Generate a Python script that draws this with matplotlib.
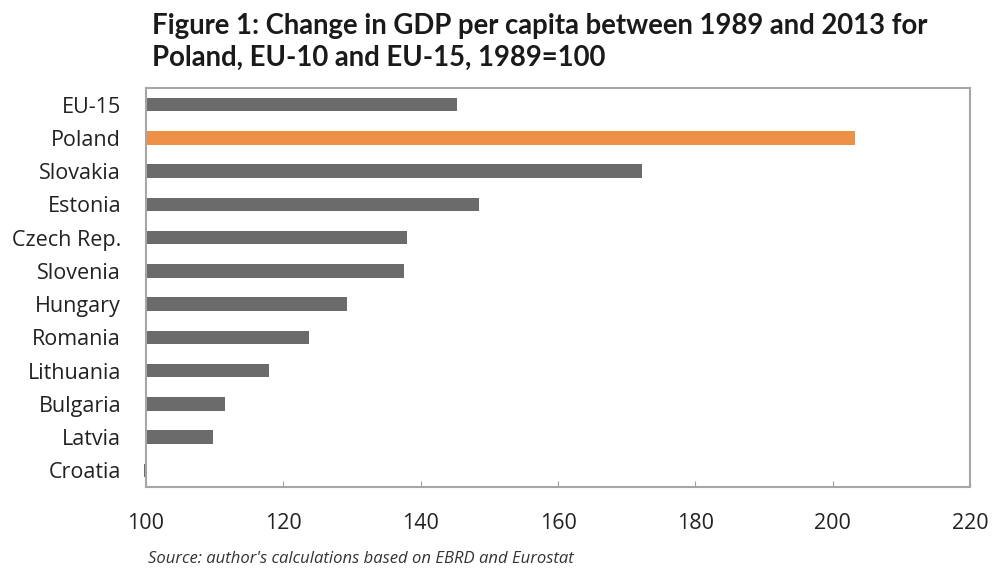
import matplotlib.pyplot as plt

countries = ["EU-15", "Poland", "Slovakia", "Estonia", "Czech Rep.", "Slovenia",
             "Hungary", "Romania", "Lithuania", "Bulgaria", "Latvia", "Croatia"]
gdp_index = [145.3, 203.2, 172.2, 148.5, 138.0, 137.6,
             129.2, 123.7, 117.9, 111.5, 109.7, 99.7]
xticks = [100, 120, 140, 160, 180, 200, 220]

plt.rcParams['font.family'] = ['Open Sans', 'DejaVu Sans']

fig = plt.figure(figsize=(9.94, 5.69), dpi=100)
ax = fig.add_axes([0.1469, 0.1441, 0.829, 0.7012])

ypos = list(range(len(countries) - 1, -1, -1))
colors = ["#ed9147" if c == "Poland" else "#6b6b6b" for c in countries]
bars = ax.barh(ypos, [v - 100 for v in gdp_index], left=100, height=0.4, color=colors)
for b in bars:
    b.set_clip_on(False)

ax.set_xlim(100, 220)
ax.set_ylim(-0.5, 11.5)
ax.set_xticks(xticks)
ax.set_xticklabels([str(t) for t in xticks])
ax.set_yticks(ypos)
ax.set_yticklabels(countries)
ax.tick_params(axis='y', length=0, pad=18, labelsize=15.5, labelcolor="#222222")
ax.tick_params(axis='x', direction='in', length=4, color="#a0a0a0", pad=19,
               labelsize=15.5, labelcolor="#222222")
for s in ax.spines.values():
    s.set_color("#a6a6a6")
    s.set_linewidth(1.5)

fig.text(0.153, 0.978, "Figure 1: Change in GDP per capita between 1989 and 2013 for\n"
         "Poland, EU-10 and EU-15, 1989=100", ha='left', va='top',
         fontsize=19.8, fontweight='bold', color="#1a1a1a", linespacing=1.3,
         family=['Lato', 'DejaVu Sans'])
fig.text(0.149, 0.003, "Source: author's calculations based on EBRD and Eurostat",
         ha='left', va='bottom', fontsize=12, style='italic', color="#333333")

plt.savefig("out.png")
